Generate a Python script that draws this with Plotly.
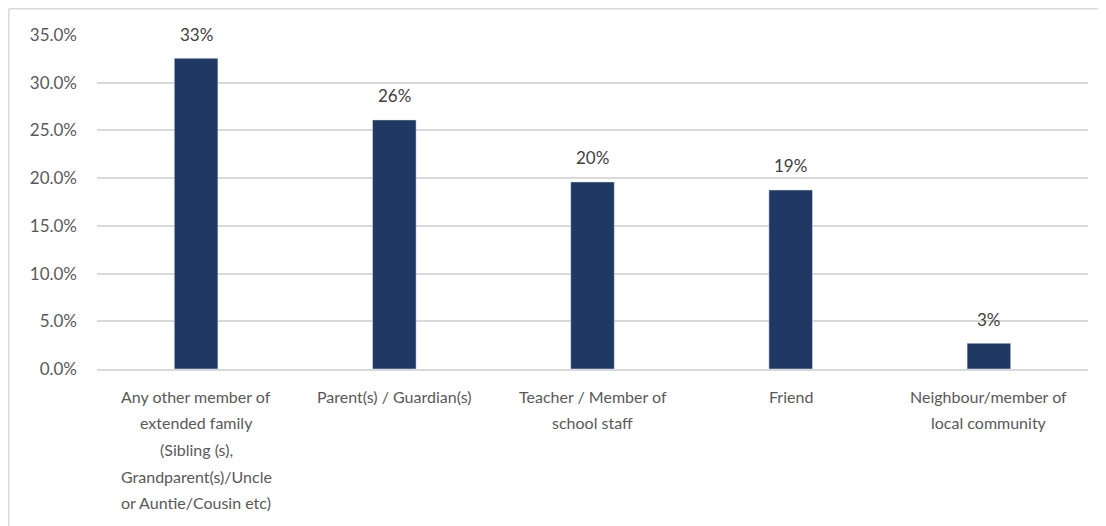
import plotly.graph_objects as go

categories = ["Extended family", "Parent/Guardian", "Teacher/Staff", "Friend", "Neighbour"]
values = [0.3256, 0.261, 0.196, 0.1876, 0.027]
value_labels = ["33%", "26%", "20%", "19%", "3%"]
tick_label_lines = [
    ["Any other member of", "extended family", "(Sibling (s),", "Grandparent(s)/Uncle", "or Auntie/Cousin etc)"],
    ["Parent(s) / Guardian(s)"],
    ["Teacher / Member of", "school staff"],
    ["Friend"],
    ["Neighbour/member of", "local community"],
]
y_ticks = [0, 0.05, 0.10, 0.15, 0.20, 0.25, 0.30, 0.35]

BAR = "#1F3864"
GRID = "#D9D9D9"
TXT = "#595959"
FONT = "Lato, Open Sans, sans-serif"

# page body adds an 8px offset; compensate so the plot lands where the reference has it
OFF = 8
W, H = 1106 - OFF, 526 - OFF
L, R, T, B = 97 - OFF, 18, 35 - OFF, 157
pw, ph = W - L - R, H - T - B

fig = go.Figure(go.Bar(
    x=categories, y=values, marker_color=BAR, width=0.22,
    hoverinfo="skip",
))

annotations = []
for c, v, lab in zip(categories, values, value_labels):
    annotations.append(dict(x=c, y=v, xref="x", yref="y", text=lab, showarrow=False,
                            yanchor="middle", yshift=24,
                            font=dict(family=FONT, size=17, color="#404040")))
for c, lines in zip(categories, tick_label_lines):
    for i, line in enumerate(lines):
        annotations.append(dict(x=c, y=0, xref="x", yref="y", text=line, showarrow=False,
                                yanchor="middle", yshift=-(27 + i * 26.7),
                                font=dict(family=FONT, size=16, color=TXT)))

x_left = (0.8 - L) / pw
y_top = (H - B - 0.8) / ph
shapes = [
    dict(type="line", xref="paper", yref="paper", x0=x_left, x1=1.2, y0=y_top, y1=y_top,
         line=dict(color=GRID, width=1.5)),
    dict(type="line", xref="paper", yref="paper", x0=x_left, x1=x_left, y0=y_top, y1=-1,
         line=dict(color=GRID, width=1.5)),
]

fig.update_layout(
    width=W, height=H,
    margin=dict(l=L, r=R, t=T, b=B),
    paper_bgcolor="white", plot_bgcolor="white",
    showlegend=False,
    font=dict(family=FONT, size=16, color=TXT),
    bargap=0.78,
    annotations=annotations,
    shapes=shapes,
    xaxis=dict(showticklabels=False, showgrid=False, showline=True, linecolor=GRID,
               linewidth=1.5, ticks="", fixedrange=True),
    yaxis=dict(range=[0, 0.35], tickvals=y_ticks, tickformat=".1%", showgrid=True,
               gridcolor=GRID, gridwidth=1.5, zeroline=False, showline=False, ticks="",
               ticklabelstandoff=19, tickfont=dict(family=FONT, size=17, color=TXT)),
)

fig.write_html("out.html")
